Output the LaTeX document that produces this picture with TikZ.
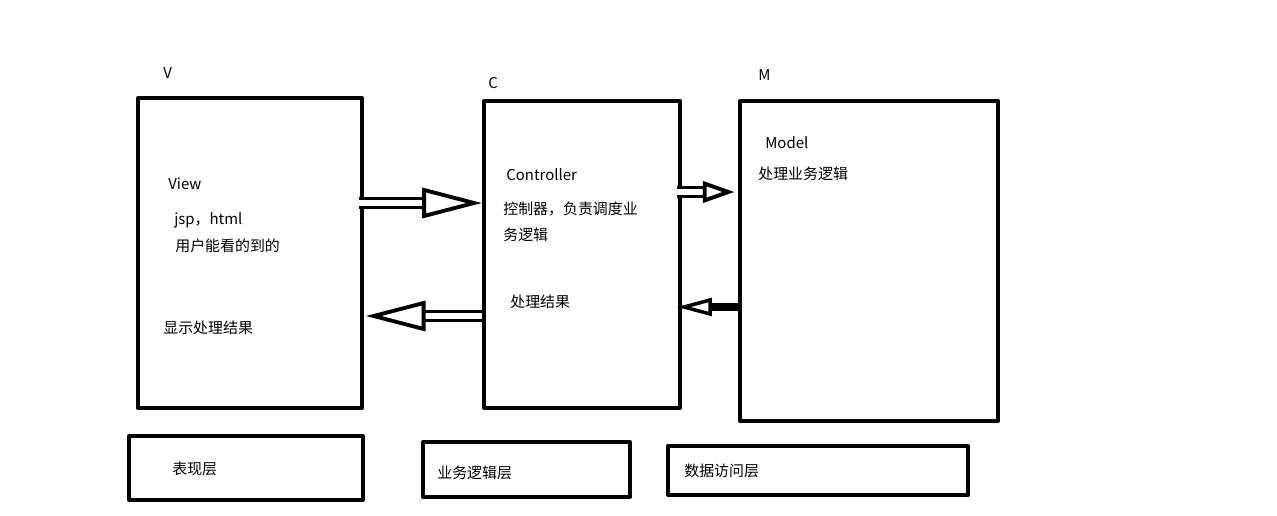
\documentclass[tikz,border=0pt]{standalone}
\usepackage{fontspec}
\setmainfont{Noto Sans CJK SC}
\usetikzlibrary{arrows.meta,fit,positioning}

\begin{document}
\begin{tikzpicture}[x=0.02cm, y=-0.02cm, line join=round,
    box/.style={draw, line width=2.3pt, inner sep=0pt},
    lbl/.style={anchor=west, inner sep=0pt, font=\fontsize{8.5}{10}\selectfont},
    hollow/.style 2 args={double=white, line width=2pt, double distance=3pt,
      -{Triangle[open, length=#1, width=#2, line width=2.2pt]}},
    solidarrow/.style={line width=4.5pt,
      -{Triangle[open, length=20pt, width=10pt, line width=2pt]}},
  ]
   \useasboundingbox (0,0) rectangle (1277,516);

   % the three layers
   \node[box, fit={(138,98) (362,408)}] (view) {};
   \node[box, fit={(484,101) (680,408)}] (ctrl) {};
   \node[box, fit={(740,101) (998,421)}] (model) {};

   \node[box, fit={(129,436) (363,500)}] (layer_v) {};
   \node[box, fit={(423,442) (630,497)}] (layer_c) {};
   \node[box, fit={(668,446) (968,495)}] (layer_m) {};

   % letters above
   \node[lbl] (v_tag) at (163,73) {V};
   \node[lbl] (c_tag) at (488,83) {C};
   \node[lbl] (m_tag) at (758,75) {M};

   % text inside view
   \node[lbl] (view_name) at (168,184) {View};
   \node[lbl] (view_tech) at (174,220) {jsp，html};
   \node[lbl] (view_desc) at (175,246) {用户能看的到的};
   \node[lbl] (view_show) at (163,328) {显示处理结果};

   % text inside controller
   \node[lbl] (ctrl_name) at (506,175) {Controller};
   \node[lbl] (ctrl_desc) at (503,209) {控制器，负责调度业};
   \node[lbl] (ctrl_desc2) at (503,235) {务逻辑};
   \node[lbl] (ctrl_res) at (510,302) {处理结果};

   % text inside model
   \node[lbl] (model_name) at (765,143) {Model};
   \node[lbl] (model_desc) at (758,174) {处理业务逻辑};

   % layer names
   \node[lbl] at (172,469) {表现层};
   \node[lbl] at (437,473) {业务逻辑层};
   \node[lbl] at (684,471) {数据访问层};

   % arrows
   \draw[hollow={34pt}{17pt}] ([xshift=-3pt]view.east |- 0,203) -- (ctrl.west |- 0,203);
   \draw[hollow={34pt}{17pt}] (ctrl.west |- 0,316) -- ([xshift=1pt]view.east |- 0,316);
   \draw[hollow={18pt}{12pt}] ([xshift=-3pt]ctrl.east |- 0,192) -- ([xshift=-2pt]model.west |- 0,192);
   \draw[solidarrow] (model.west |- 0,307) -- ([xshift=-3pt]ctrl.east |- 0,307);
 \end{tikzpicture}
\end{document}
